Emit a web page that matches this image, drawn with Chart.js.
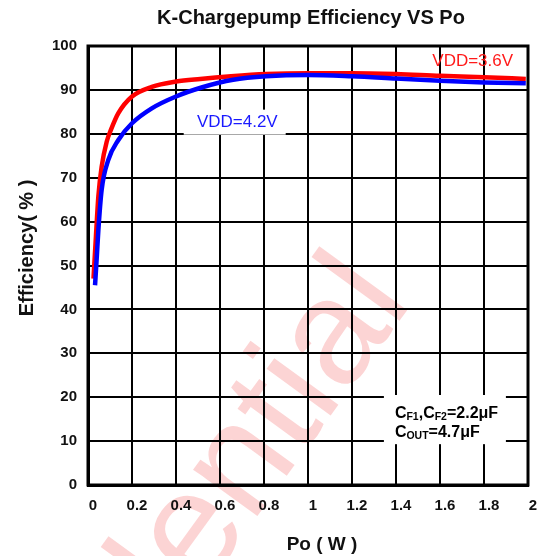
<!DOCTYPE html>
<html>
<head>
<meta charset="utf-8">
<script src="https://cdn.jsdelivr.net/npm/chart.js@4.4.1/dist/chart.umd.min.js"></script>
<style>
  html, body { margin: 0; padding: 0; background: #fff; }
  #wrap { width: 547px; height: 556px; }
</style>
</head>
<body>
<div id="wrap"><canvas id="chart" width="547" height="556"></canvas></div>
<script>
// Po (W) and efficiency (%)
const vdd36Po  = [0.025, 0.036, 0.047, 0.062, 0.085, 0.105, 0.138, 0.2, 0.29, 0.4, 0.51, 0.65, 0.81, 1.0, 1.2, 1.4, 1.6, 1.8, 1.99];
const vdd36Eff = [47, 56.6, 65.7, 72.5, 78.2, 81, 84.7, 88.5, 90.7, 91.9, 92.5, 93.1, 93.6, 93.8, 93.8, 93.6, 93.2, 92.9, 92.5];

const vdd42Po  = [0.032, 0.04, 0.047, 0.062, 0.092, 0.138, 0.2, 0.29, 0.4, 0.52, 0.66, 0.81, 1.0, 1.2, 1.4, 1.6, 1.8, 1.99];
const vdd42Eff = [45.5, 52, 58, 67.2, 74, 78.6, 82.4, 85.8, 88.5, 90.6, 92.3, 93.1, 93.4, 93.1, 92.6, 92.1, 91.7, 91.5];

const xTickLabels = ["0", "0.2", "0.4", "0.6", "0.8", "1", "1.2", "1.4", "1.6", "1.8", "2"];

const FONT = 'Arial, "Liberation Sans", sans-serif';

function toPoints(xs, ys){
  return xs.map((x,i)=>({x:x, y:ys[i]}));
}

const extras = {
  id: "extras",
  beforeDraw(chart){
    const ctx = chart.ctx;
    // watermark
    ctx.save();
    ctx.translate(413, 302);
    ctx.rotate(-54 * Math.PI / 180);
    ctx.font = "150px " + FONT;
    ctx.textAlign = "right";
    ctx.textBaseline = "alphabetic";
    ctx.fillStyle = "rgba(240,40,40,0.2)";
    ctx.fillText("Confidential", 0, 0);
    ctx.restore();
  },
  afterDatasetsDraw(chart){
    const ctx = chart.ctx;
    const a = chart.chartArea;
    const x = chart.scales.x, y = chart.scales.y;

    // frame
    ctx.save();
    ctx.strokeStyle = "#000";
    ctx.lineWidth = 3;
    ctx.strokeRect(a.left, a.top, a.right - a.left, a.bottom - a.top);

    // VDD=4.2V label on white
    ctx.fillStyle = "#fff";
    ctx.fillRect(x.getPixelForValue(0.435), y.getPixelForValue(85.5), 102, 25);
    ctx.font = "17px " + FONT;
    ctx.textBaseline = "middle";
    ctx.fillStyle = "#1a1aff";
    ctx.fillText("VDD=4.2V", x.getPixelForValue(0.495), y.getPixelForValue(82.7));

    ctx.fillStyle = "#ff1a1a";
    ctx.fillText("VDD=3.6V", x.getPixelForValue(1.565), y.getPixelForValue(96.4));

    // capacitor box
    const bx = x.getPixelForValue(1.345), by = y.getPixelForValue(20.5);
    ctx.fillStyle = "#fff";
    ctx.fillRect(bx, by, 122, y.getPixelForValue(9.3) - by);
    ctx.fillStyle = "#000";
    ctx.textBaseline = "alphabetic";
    const parts1 = [["C",0],["F1",1],[",C",0],["F2",1],["=2.2\u03bcF",0]];
    const parts2 = [["C",0],["OUT",1],["=4.7\u03bcF",0]];
    [[parts1, 418],[parts2, 437]].forEach(([parts, base])=>{
      let cx = x.getPixelForValue(1.395);
      parts.forEach(([t, sub])=>{
        ctx.font = "bold " + (sub ? 10.5 : 16) + "px " + FONT;
        ctx.fillText(t, cx, base + (sub ? 2 : 0));
        cx += ctx.measureText(t).width;
      });
    });
    ctx.restore();
  },
  afterDraw(chart){
    const ctx = chart.ctx;
    ctx.save();
    ctx.fillStyle = "#111";
    ctx.textAlign = "center";
    ctx.textBaseline = "middle";
    ctx.font = "bold 20px " + FONT;
    ctx.fillText("K-Chargepump Efficiency VS Po", 311, 18);
    ctx.font = "bold 19px " + FONT;
    ctx.fillText("Po ( W )", 322, 545);
    ctx.font = "bold 20px " + FONT;
    ctx.translate(27, 248);
    ctx.rotate(-Math.PI / 2);
    ctx.fillText("Efficiency( % )", 0, 0);
    ctx.restore();
  }
};

new Chart(document.getElementById("chart"), {
  type: "scatter",
  data: {
    datasets: [
      {
        label: "VDD=4.2V",
        data: toPoints(vdd42Po, vdd42Eff),
        borderColor: "#0000ff",
        order: 1
      },
      {
        label: "VDD=3.6V",
        data: toPoints(vdd36Po, vdd36Eff),
        borderColor: "#ff0000",
        order: 2
      }
    ]
  },
  options: {
    responsive: false,
    animation: false,
    devicePixelRatio: 1,
    layout: { padding: { top: 46, right: 19, left: 0, bottom: 0 } },
    elements: {
      line: { borderWidth: 4.5, cubicInterpolationMode: "monotone", fill: false },
      point: { radius: 0 }
    },
    datasets: { scatter: { showLine: true } },
    plugins: {
      legend: { display: false },
      tooltip: { enabled: false }
    },
    scales: {
      x: {
        type: "linear",
        min: 0, max: 2,
        afterFit: s => { s.height = 71; },
        ticks: {
          stepSize: 0.2,
          padding: 12,
          labelOffset: 5,
          color: "#111",
          font: { family: FONT, size: 15, weight: "bold" },
          callback: (v, i) => xTickLabels[i]
        },
        grid: { color: "#000", lineWidth: 2, drawTicks: false },
        border: { color: "#000", width: 3 }
      },
      y: {
        min: 0, max: 100,
        afterFit: s => { s.width = 88; },
        ticks: {
          stepSize: 10,
          padding: 11,
          color: "#111",
          font: { family: FONT, size: 15, weight: "bold" }
        },
        grid: { color: "#000", lineWidth: 2, drawTicks: false },
        border: { color: "#000", width: 3 }
      }
    }
  },
  plugins: [extras]
});
</script>
</body>
</html>
